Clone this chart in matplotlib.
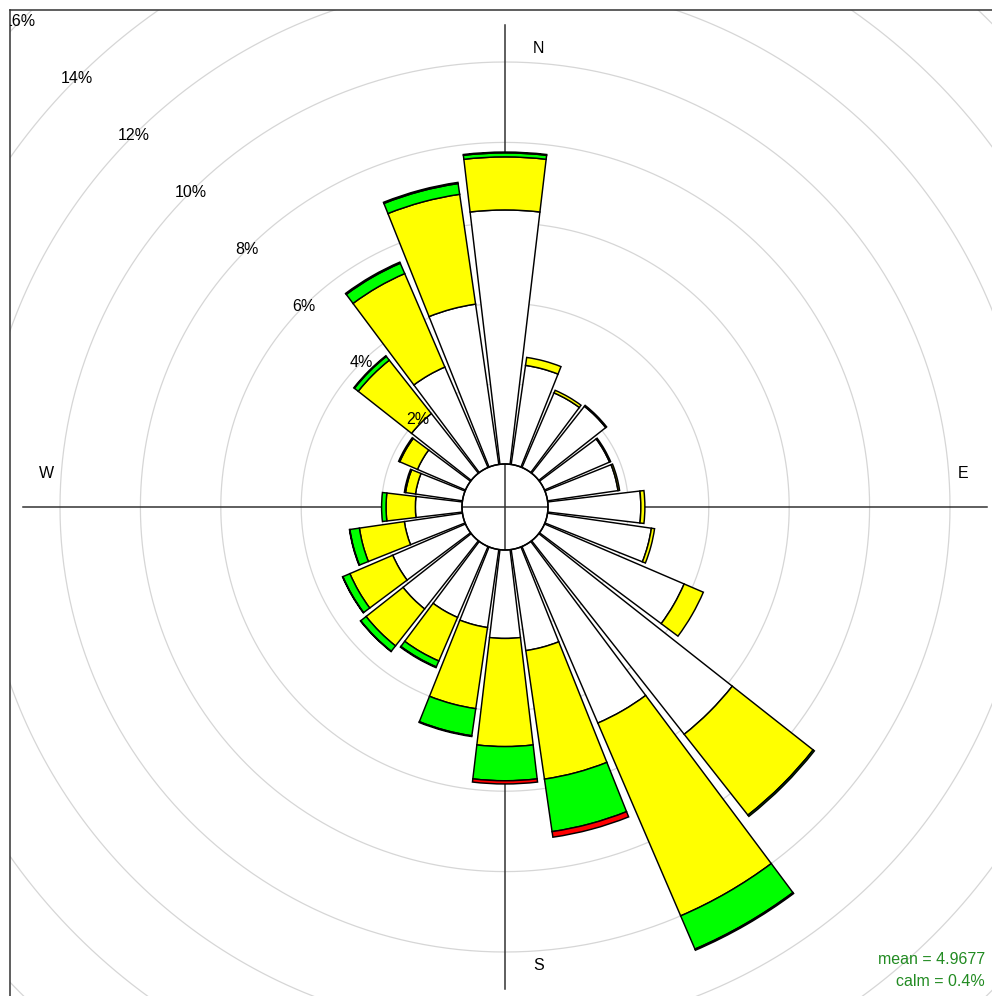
import numpy as np
import matplotlib
matplotlib.use("Agg")
import matplotlib.pyplot as plt
from matplotlib.patches import Wedge, Circle

plt.rcParams['font.family'] = ['Liberation Sans', 'DejaVu Sans']

# ---- data (percent frequency per speed bin, by direction) ----
directions = [0, 15, 30, 45, 60, 75, 90, 105, 120, 135, 150, 165,
              180, 195, 210, 225, 240, 255, 270, 285, 300, 315, 330, 345]
bin_white  = [6.32, 2.49, 2.02, 2.12, 1.76, 1.77, 2.31, 2.61, 3.78, 6.13, 4.78, 2.54,
              2.20, 1.96, 1.92, 2.16, 1.97, 1.46, 1.16, 1.18, 1.30, 1.89, 2.72, 4.03]
bin_yellow = [1.32, 0.20, 0.07, 0.03, 0.03, 0.04, 0.10, 0.08, 0.52, 2.56, 5.22, 3.23,
              2.69, 2.04, 1.18, 1.17, 1.16, 1.13, 0.73, 0.25, 0.48, 1.69, 2.53, 2.76]
bin_green  = [0.10, 0.00, 0.00, 0.00, 0.00, 0.00, 0.00, 0.00, 0.00, 0.04, 0.90, 1.32,
              0.85, 0.68, 0.16, 0.17, 0.19, 0.24, 0.11, 0.00, 0.03, 0.12, 0.28, 0.27]
bin_red    = [0.00, 0.00, 0.00, 0.00, 0.00, 0.00, 0.00, 0.00, 0.00, 0.00, 0.00, 0.14,
              0.08, 0.00, 0.00, 0.00, 0.00, 0.00, 0.00, 0.00, 0.00, 0.00, 0.00, 0.00]
bin_dark   = [0.02, 0.00, 0.00, 0.00, 0.00, 0.00, 0.00, 0.00, 0.00, 0.00, 0.03, 0.00,
              0.00, 0.02, 0.02, 0.01, 0.01, 0.01, 0.00, 0.03, 0.00, 0.02, 0.03, 0.03]
bin_colors = ['white', '#FFFF00', '#00FF00', '#FF0000', '#000000']

grid_levels = [2, 4, 6, 8, 10, 12, 14, 16, 18, 20]
mean_text = "mean = 4.9677"
calm_text = "calm = 0.4%"

# ---- layout ----
W, H = 992, 996
PX = 40.2          # pixels per percent
offset = 43 / PX   # calm circle radius (in % units)
cx, cy = 505, 507  # centre in pixels
ax_left, ax_top, ax_right, ax_bottom = 10, 10, 1000, 1004

fig = plt.figure(figsize=(W / 100, H / 100), dpi=100)
ax = fig.add_axes([ax_left / W, (H - ax_bottom) / H,
                   (ax_right - ax_left) / W, (ax_bottom - ax_top) / H])
ax.set_xlim((ax_left - cx) / PX, (ax_right - cx) / PX)
ax.set_ylim((cy - ax_bottom) / PX, (cy - ax_top) / PX)
ax.set_aspect('auto')
ax.set_xticks([]); ax.set_yticks([])
for s in ax.spines.values():
    s.set_color('#333333'); s.set_linewidth(1.1)

# grid rings
t = np.linspace(0, 2 * np.pi, 721)
for lv in [0] + grid_levels:
    r = offset + lv
    ax.plot(r * np.cos(t), r * np.sin(t), color='#D6D6D6', lw=0.9, zorder=1)

# axis lines
R = 12.0
ax.plot([-R, R], [0, 0], color='#333333', lw=1.1, zorder=2)
ax.plot([0, 0], [-R, R], color='#333333', lw=1.1, zorder=2)

# wedges
half = 0.9 * 15 / 2
bins = [bin_white, bin_yellow, bin_green, bin_red, bin_dark]
for i, d in enumerate(directions):
    base = offset
    th1 = 90 - d - half
    th2 = 90 - d + half
    for b, col in zip(bins, bin_colors):
        v = b[i]
        if v <= 0:
            continue
        ax.add_patch(Wedge((0, 0), base + v, th1, th2, width=v,
                           facecolor=col, edgecolor='black', lw=1.05, zorder=3))
        base += v

# calm circle
ax.add_patch(Circle((0, 0), offset, facecolor='none', edgecolor='black', lw=1.1, zorder=4))

# ring labels at NW
a = np.deg2rad(45)
for lv in grid_levels:
    r = offset + lv
    ax.text(-r * np.sin(a), r * np.cos(a), f"{lv}%", ha='center', va='center',
            fontsize=11.5, color='black', zorder=5, clip_on=True)

# compass labels
lab_r = 0.95 * R
lab_o = 0.07 * R
ax.text(lab_o, lab_r, "N", ha='center', va='center', fontsize=11.5)
ax.text(lab_o, -lab_r, "S", ha='center', va='center', fontsize=11.5)
ax.text(lab_r, lab_o, "E", ha='center', va='center', fontsize=11.5)
ax.text(-lab_r, lab_o, "W", ha='center', va='center', fontsize=11.5)

# stats text (figure coordinates)
fig.text(985 / W, 1 - 959 / H, mean_text, ha='right', va='center', fontsize=11.5, color='#228B22')
fig.text(985 / W, 1 - 981.5 / H, calm_text, ha='right', va='center', fontsize=11.5, color='#228B22')

fig.savefig("out.png", dpi=100)
